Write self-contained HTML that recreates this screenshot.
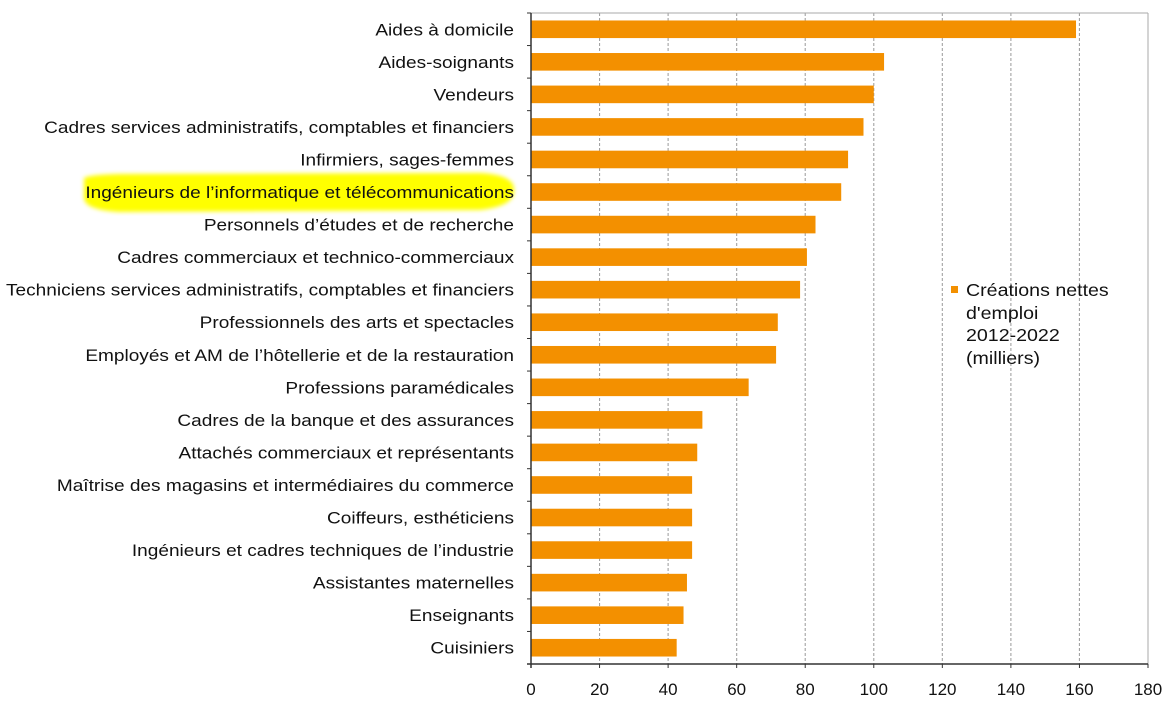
<!DOCTYPE html>
<html><head><meta charset="utf-8"><style>
html,body{margin:0;padding:0;background:#fff;}
svg{display:block;font-family:"Liberation Sans",Arial,sans-serif;}
</style></head><body>
<svg width="1171" height="712" viewBox="0 0 1171 712" xmlns="http://www.w3.org/2000/svg">
<defs><filter id="b"><feGaussianBlur stdDeviation="2"/></filter></defs>
<rect width="1171" height="712" fill="#fff"/>
<path d="M84 180 Q80 175 120 174 L480 173 Q515 175 514 190 Q515 206 480 210 L120 212 Q82 210 84 196 Z" fill="#ffff00" filter="url(#b)"/>
<g stroke="#999" stroke-width="1" stroke-dasharray="3,2">
<line x1="599.6" y1="13" x2="599.6" y2="664"/><line x1="668.1" y1="13" x2="668.1" y2="664"/>
<line x1="736.7" y1="13" x2="736.7" y2="664"/><line x1="805.2" y1="13" x2="805.2" y2="664"/>
<line x1="873.8" y1="13" x2="873.8" y2="664"/><line x1="942.3" y1="13" x2="942.3" y2="664"/>
<line x1="1010.9" y1="13" x2="1010.9" y2="664"/><line x1="1079.4" y1="13" x2="1079.4" y2="664"/>
</g>
<line x1="531" y1="13" x2="1148" y2="13" stroke="#aaa"/>
<line x1="1148" y1="13" x2="1148" y2="664" stroke="#aaa"/>
<g fill="#f39000" id="bars"></g>
<g id="lab" font-size="17" fill="#111" text-anchor="end"></g>
<line x1="531" y1="13" x2="531" y2="668" stroke="#333" stroke-width="1.5"/>
<line x1="527" y1="664" x2="1148" y2="664" stroke="#333" stroke-width="1.5"/>
<g id="ticks" stroke="#333"></g>
<g id="xl" font-size="17" fill="#111" text-anchor="middle"></g>
<rect x="951" y="286" width="7" height="7" fill="#f39000"/>
<g font-size="17.5" fill="#111" id="leg">
<text x="966" y="296">Créations nettes</text>
<text x="966" y="319">d'emploi</text>
<text x="966" y="341">2012-2022</text>
<text x="966" y="364">(milliers)</text>
</g>
<script>
var d=[["Aides à domicile",159],["Aides-soignants",103],["Vendeurs",100],["Cadres services administratifs, comptables et financiers",97],["Infirmiers, sages-femmes",92.5],["Ingénieurs de l’informatique et télécommunications",90.5],["Personnels d’études et de recherche",83],["Cadres commerciaux et technico-commerciaux",80.5],["Techniciens services administratifs, comptables et financiers",78.5],["Professionnels des arts et spectacles",72],["Employés et AM de l’hôtellerie et de la restauration",71.5],["Professions paramédicales",63.5],["Cadres de la banque et des assurances",50],["Attachés commerciaux et représentants",48.5],["Maîtrise des magasins et intermédiaires du commerce",47],["Coiffeurs, esthéticiens",47],["Ingénieurs et cadres techniques de l’industrie",47],["Assistantes maternelles",45.5],["Enseignants",44.5],["Cuisiniers",42.5]];
var ns="http://www.w3.org/2000/svg",s=32.55,x0=531,k=617/180;
function el(t,a,p,txt){var e=document.createElementNS(ns,t);for(var i in a)e.setAttribute(i,a[i]);if(txt)e.textContent=txt;document.getElementById(p).appendChild(e);return e;}
function stretch(e,f){var w=e.getComputedTextLength();e.setAttribute("textLength",w*f);e.setAttribute("lengthAdjust","spacingAndGlyphs");}
d.forEach(function(r,i){var c=13+s*(i+0.5);
el("rect",{x:x0,y:c-8.8,width:r[1]*k,height:17.6},"bars");
var t=el("text",{x:514,y:c+6},"lab",r[0]);stretch(t,1.12);
el("line",{x1:527,y1:13+s*i,x2:531,y2:13+s*i},"ticks");});
for(var v=0;v<=180;v+=20){var x=x0+v*k;el("line",{x1:x,y1:664,x2:x,y2:668},"ticks");el("text",{x:x,y:695},"xl",""+v);}
Array.prototype.forEach.call(document.querySelectorAll("#leg text"),function(t){stretch(t,1.12);});
</script>
</svg>
</body></html>
